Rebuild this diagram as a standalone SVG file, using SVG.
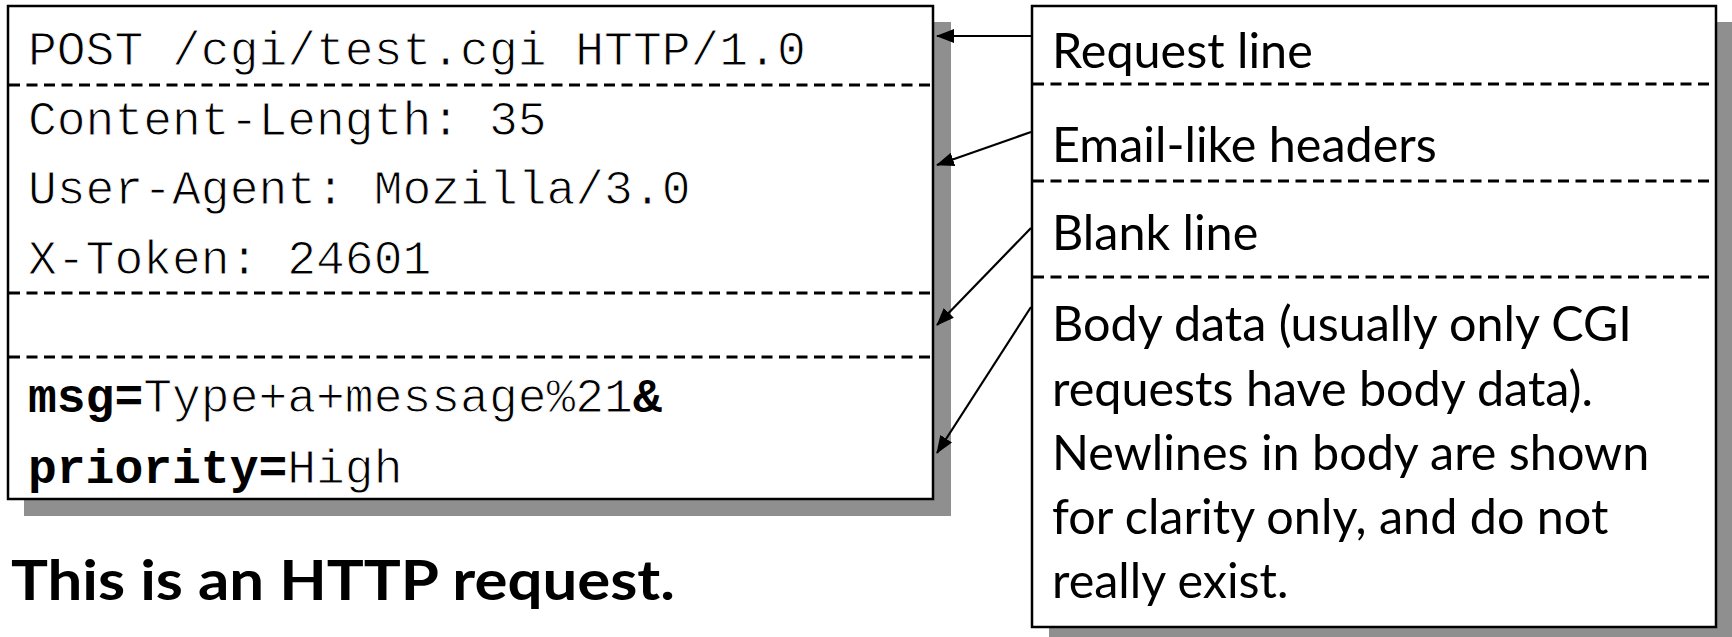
<svg xmlns="http://www.w3.org/2000/svg" width="1732" height="637" viewBox="0 0 1732 637">
  <style>
    .frame { fill: #ffffff; stroke: #000000; stroke-width: 2.5; }
    .shadow { fill: #8f8f8f; }
    .divider { stroke: #000000; stroke-width: 3; stroke-dasharray: 11 6.5; fill: none; }
    .mono { font-family: "Liberation Mono", "Courier New", monospace; font-size: 48px; fill: #000000; stroke: #ffffff; stroke-width: 1; }
    .mono .b { font-weight: bold; stroke: none; }
    .label { font-family: Lato, "Liberation Sans", sans-serif; font-size: 48.5px; fill: #000000; }
    .caption { font-family: Lato, "Liberation Sans", sans-serif; font-size: 55px; font-weight: bold; fill: #000000; }
    .link { stroke: #000000; stroke-width: 2.2; fill: none; marker-end: url(#head); }
  </style>
  <defs>
    <marker id="head" viewBox="0 0 18 14" refX="17" refY="7" markerWidth="18" markerHeight="14" markerUnits="userSpaceOnUse" orient="auto">
      <path d="M0,0 L18,7 L0,14 Z" fill="#000000"/>
    </marker>
  </defs>

  <!-- request message box -->
  <g id="request">
    <rect class="shadow" x="24" y="22" width="927" height="494"/>
    <rect class="frame" x="8" y="6" width="925" height="493"/>
    <line class="divider" x1="9" y1="85" x2="932" y2="85"/>
    <line class="divider" x1="9" y1="293" x2="932" y2="293"/>
    <line class="divider" x1="9" y1="357" x2="932" y2="357"/>
    <text class="mono" x="28" y="65">POST /cgi/test.cgi HTTP/1.0</text>
    <text class="mono" x="28" y="135">Content-Length: 35</text>
    <text class="mono" x="28" y="204">User-Agent: Mozilla/3.0</text>
    <text class="mono" x="28" y="274">X-Token: 24601</text>
    <text class="mono" x="28" y="412"><tspan class="b">msg=</tspan>Type+a+message%21<tspan class="b">&amp;</tspan></text>
    <text class="mono" x="28" y="483"><tspan class="b">priority=</tspan>High</text>
  </g>

  <!-- explanation box -->
  <g id="legend">
    <rect class="shadow" x="1049" y="22" width="683" height="620"/>
    <rect class="frame" x="1032" y="6" width="684" height="621"/>
    <line class="divider" x1="1033" y1="84" x2="1715" y2="84"/>
    <line class="divider" x1="1033" y1="181" x2="1715" y2="181"/>
    <line class="divider" x1="1033" y1="277" x2="1715" y2="277"/>
    <text class="label" x="1052" y="68">Request line</text>
    <text class="label" x="1052" y="162">Email-like headers</text>
    <text class="label" x="1052" y="250">Blank line</text>
    <text class="label" x="1052" y="341">Body data (usually only CGI</text>
    <text class="label" x="1052" y="406">requests have body data).</text>
    <text class="label" x="1052" y="470">Newlines in body are shown</text>
    <text class="label" x="1052" y="534">for clarity only, and do not</text>
    <text class="label" x="1052" y="598">really exist.</text>
  </g>

  <g id="caption">
    <text class="caption" x="11" y="600" textLength="664" lengthAdjust="spacingAndGlyphs">This is an HTTP request.</text>
  </g>

  <g id="connectors">
    <line class="link" x1="1031" y1="36" x2="937" y2="36"/>
    <line class="link" x1="1031" y1="132" x2="937" y2="165"/>
    <line class="link" x1="1031" y1="228" x2="937" y2="325"/>
    <line class="link" x1="1031" y1="307" x2="937" y2="453"/>
  </g>
</svg>
